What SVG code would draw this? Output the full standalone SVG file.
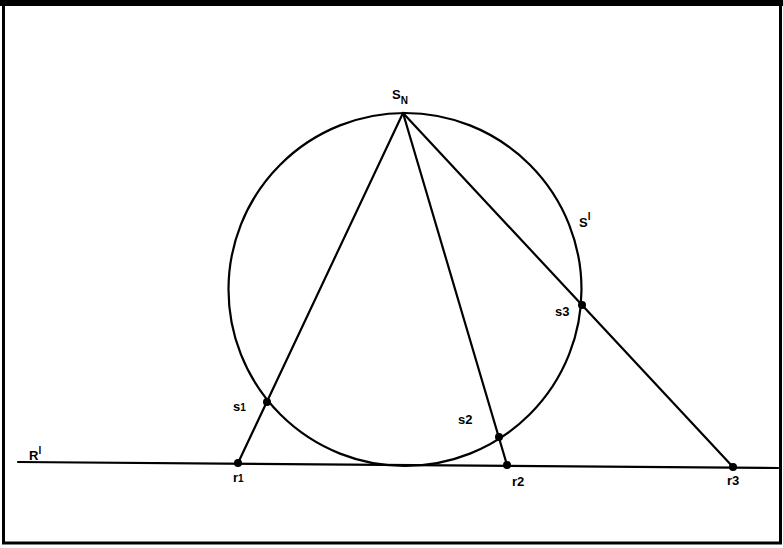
<svg xmlns="http://www.w3.org/2000/svg" width="783" height="548" viewBox="0 0 783 548">
<style>
.ln{stroke:#000;stroke-width:2.2;fill:none;stroke-linecap:round}
.pt{fill:#000}
.lb{font-family:"Liberation Sans",Arial,sans-serif;font-weight:bold;font-size:13px;fill:#000}
.sub{font-size:10px}
</style>
<rect x="0" y="0" width="783" height="548" fill="#fff"/>
<rect x="0" y="0" width="783" height="6" fill="#000"/>
<rect x="3.5" y="4" width="777" height="539" fill="none" stroke="#000" stroke-width="3"/>
<g id="connectors">
<circle class="ln" cx="405" cy="289.5" r="176.5"/>
<line class="ln" x1="18" y1="462" x2="778" y2="468"/>
<line class="ln" x1="403" y1="113" x2="238" y2="463"/>
<line class="ln" x1="403" y1="113" x2="507" y2="465"/>
<line class="ln" x1="403" y1="113" x2="733" y2="467"/>
</g>
<g id="SN"><text class="lb" x="392" y="99">S<tspan class="sub" dy="5">N</tspan></text></g>
<g id="S1"><text class="lb" x="579" y="227" font-size="15">S<tspan class="sub" dy="-7">l</tspan></text></g>
<g id="R1"><text class="lb" x="29" y="460">R<tspan class="sub" dy="-6">l</tspan></text></g>
<g id="s1"><circle class="pt" cx="267" cy="402" r="4"/><text class="lb" x="233" y="411">s<tspan class="sub">1</tspan></text></g>
<g id="s2"><circle class="pt" cx="499" cy="437" r="4"/><text class="lb" x="458" y="424">s2</text></g>
<g id="s3"><circle class="pt" cx="582" cy="305" r="4"/><text class="lb" x="555" y="316">s3</text></g>
<g id="r1"><circle class="pt" cx="238" cy="463" r="4"/><text class="lb" x="233" y="482">r<tspan class="sub">1</tspan></text></g>
<g id="r2"><circle class="pt" cx="507" cy="465" r="4"/><text class="lb" x="512" y="486">r2</text></g>
<g id="r3"><circle class="pt" cx="733" cy="467" r="4"/><text class="lb" x="727" y="485">r3</text></g>
</svg>
